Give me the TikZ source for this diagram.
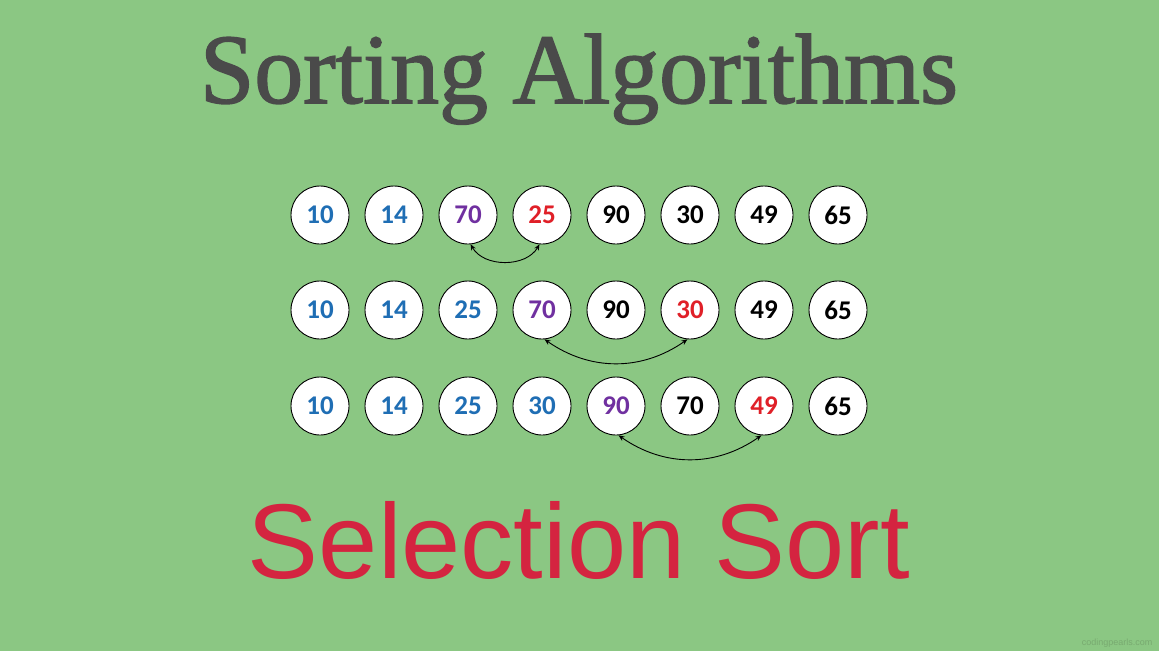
\documentclass[tikz,border=0pt]{standalone}
\usepackage{fontspec}
\setmainfont{Liberation Serif}
\newfontfamily\numfont{Carlito}
\newfontfamily\arialfont{Liberation Sans}
\newfontfamily\titlefont[FakeBold=1.5]{Liberation Serif}
\usetikzlibrary{arrows.meta}
\definecolor{bg}{RGB}{139,199,131}
\definecolor{nblue}{RGB}{31,110,180}
\definecolor{npurple}{RGB}{112,48,160}
\definecolor{nred}{RGB}{224,32,40}
\definecolor{titlegray}{RGB}{74,74,74}
\definecolor{selred}{RGB}{212,36,64}
\definecolor{wm}{RGB}{120,170,112}
\tikzset{
  ball/.style={circle,draw=black,line width=0.9pt,fill=white,minimum size=58pt,inner sep=0pt,font=\numfont\bfseries\fontsize{27}{27}\selectfont},
  swap/.style={{Stealth[length=6pt,width=5pt]}-{Stealth[length=6pt,width=5pt]},line width=0.9pt,black}
}
\begin{document}
\begin{tikzpicture}[x=1pt,y=-1pt]
\useasboundingbox (0,0) rectangle (1159,651);
\fill[bg] (0,0) rectangle (1159,651);
\node[text=titlegray,anchor=base,inner sep=0pt] (title) at (579,103) {\resizebox{758pt}{69pt}{\titlefont Sorting Algorithms}};
\node[text=selred,anchor=base,inner sep=0pt] (sel) at (579,578) {\resizebox{662pt}{!}{\arialfont Selection Sort}};
% row 1
\node[ball,text=nblue] (a1) at (320,215) {10};
\node[ball,text=nblue] (a2) at (394,215) {14};
\node[ball,text=npurple] (a3) at (468,215) {70};
\node[ball,text=nred] (a4) at (542,215) {25};
\node[ball,text=black] (a5) at (616,215) {90};
\node[ball,text=black] (a6) at (690,215) {30};
\node[ball,text=black] (a7) at (764,215) {49};
\node[ball,text=black] (a8) at (838,215) {65};
% row 2
\node[ball,text=nblue] (b1) at (320,310) {10};
\node[ball,text=nblue] (b2) at (394,310) {14};
\node[ball,text=nblue] (b3) at (468,310) {25};
\node[ball,text=npurple] (b4) at (542,310) {70};
\node[ball,text=black] (b5) at (616,310) {90};
\node[ball,text=nred] (b6) at (690,310) {30};
\node[ball,text=black] (b7) at (764,310) {49};
\node[ball,text=black] (b8) at (838,310) {65};
% row 3
\node[ball,text=nblue] (c1) at (320,406) {10};
\node[ball,text=nblue] (c2) at (394,406) {14};
\node[ball,text=nblue] (c3) at (468,406) {25};
\node[ball,text=nblue] (c4) at (542,406) {30};
\node[ball,text=npurple] (c5) at (616,406) {90};
\node[ball,text=black] (c6) at (690,406) {70};
\node[ball,text=nred] (c7) at (764,406) {49};
\node[ball,text=black] (c8) at (838,406) {65};
% swaps
\draw[swap] (a3.-85) to[out=-60,in=-120] (a4.-95);
\draw[swap] (b4.-85) to[out=-35,in=-145] (b6.-95);
\draw[swap] (c5.-85) to[out=-35,in=-145] (c7.-95);
\node[text=wm,anchor=base east,font=\arialfont\fontsize{9}{9}\selectfont] (wmark) at (1156,645) {codingpearls.com};
\end{tikzpicture}
\end{document}
